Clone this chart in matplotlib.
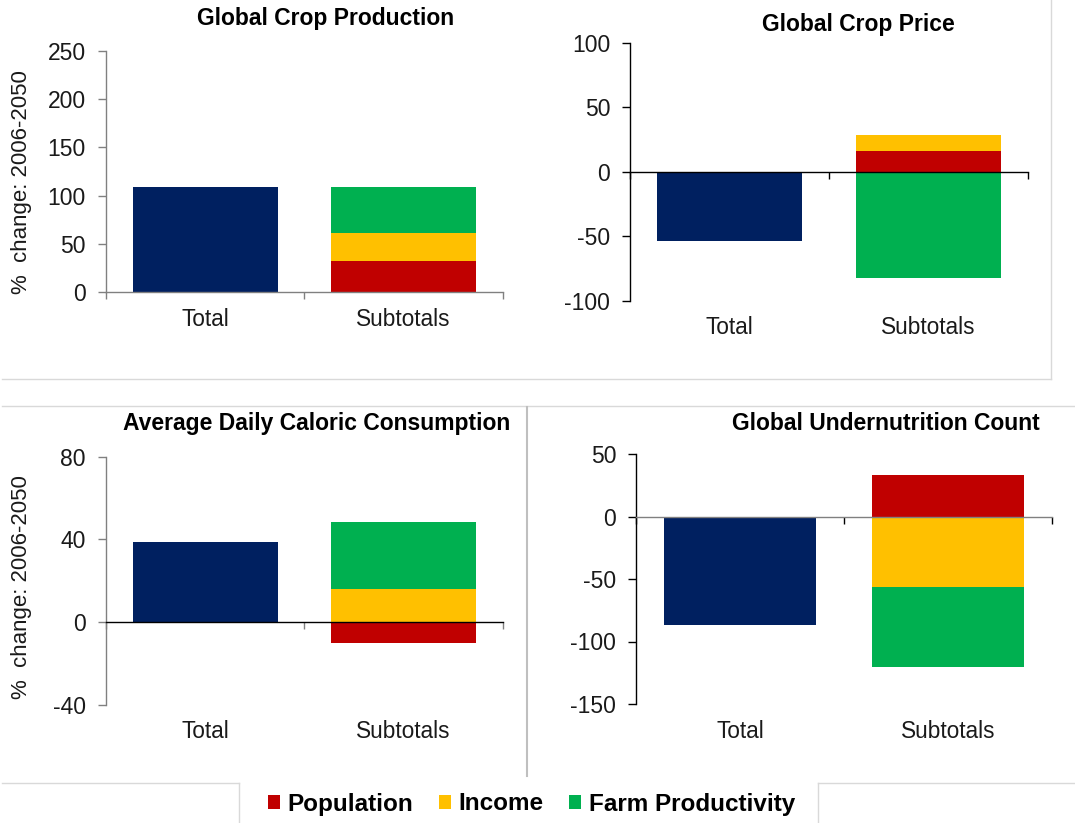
"""Four-panel stacked bar chart: drivers of change 2006-2050 (Total vs. Subtotals)."""
import matplotlib
matplotlib.use("Agg")
import matplotlib.pyplot as plt
from matplotlib.lines import Line2D

plt.rcParams.update({"font.family": ["Liberation Sans", "DejaVu Sans"], "font.size": 16,
                     "axes.unicode_minus": False,
                     "text.color": "#1a1a1a", "xtick.color": "#1a1a1a", "ytick.color": "#1a1a1a"})

TITLES = ["Global Crop Production", "Global Crop Price",
          "Average Daily Caloric Consumption", "Global Undernutrition Count"]
CATEGORIES = ["Total", "Subtotals"]
TOTAL = [108.6, -53.6, 38.6, -86.4]
POPULATION = [32.5, 16.5, -10.0, 33.4]
INCOME = [28.7, 12.2, 16.0, -56.5]
FARM = [47.4, -82.3, 32.3, -64.0]
SERIES = ["Population", "Income", "Farm Productivity"]
YTICKS = [[0, 50, 100, 150, 200, 250], [-100, -50, 0, 50, 100],
          [-40, 0, 40, 80], [-150, -100, -50, 0, 50]]
YLABEL = "%  change: 2006-2050"

NAVY = "#002060"
COLORS = ["#C00000", "#FFC000", "#00B050"]
SEP = "#d9d9d9"

W, H = 1075, 823
# axes boxes in pixels: x0, x1, ytop, ybottom
BOXES = [(106, 502.7, 51, 292), (630.3, 1027.7, 43, 300.7),
         (106, 502.7, 456.7, 704.7), (636.3, 1052.3, 454, 704)]
TITLE_POS = [(326, 19), (858.8, 24), (316.7, 424), (885.5, 424)]
# spine colours: (left spine, zero line)
SPINES = [("#808080", "#808080"), ("black", "black"), ("#808080", "black"), ("black", "#808080")]

fig = plt.figure(figsize=(W / 100, H / 100), dpi=100)


def panel(i):
    x0, x1, yt, yb = BOXES[i]
    ax = fig.add_axes([x0 / W, 1 - yb / H, (x1 - x0) / W, (yb - yt) / H])
    ax.bar(0, TOTAL[i], width=0.73, color=NAVY, zorder=1)
    handles = []
    pos, neg = 0.0, 0.0
    for vals, col, lab in zip([POPULATION, INCOME, FARM], COLORS, SERIES):
        v = vals[i]
        b = pos if v >= 0 else neg
        h = ax.bar(1, v, width=0.73, bottom=b, color=col, label=lab, zorder=1)
        handles.append(h)
        if v >= 0:
            pos += v
        else:
            neg += v
    lo, hi = YTICKS[i][0], YTICKS[i][-1]
    ax.set_ylim(lo, hi)
    ax.set_yticks(YTICKS[i])
    ax.set_xlim(-0.5, 1.5)
    ax.set_xticks([-0.5, 0.5, 1.5])
    ax.set_xticklabels([])
    lc, zc = SPINES[i]
    for s in ["top", "right"]:
        ax.spines[s].set_visible(False)
    ax.spines["left"].set_color(lc)
    ax.spines["left"].set_linewidth(1.0)
    ax.spines["bottom"].set_color(zc)
    ax.spines["bottom"].set_linewidth(1.0)
    ax.spines["bottom"].set_position(("data", 0))
    ax.spines["bottom"].set_zorder(3)
    ax.tick_params(axis="y", direction="out", length=6, width=1.0, color=lc, pad=8.5, labelsize=16.5)
    ax.tick_params(axis="x", direction="out", length=5, width=1.0, color=lc)
    ax.patch.set_alpha(0)
    for k, c in enumerate(CATEGORIES):
        ax.annotate(c, xy=(k, 0), xycoords=ax.get_xaxis_transform(), xytext=(0, -19.5),
                    textcoords="offset points", ha="center", va="center", fontsize=16.3)
    tx, ty = TITLE_POS[i]
    fig.text(tx / W, 1 - ty / H, TITLES[i], ha="center", va="center",
             fontsize=16.5, fontweight="bold", color="black")
    return handles


handles = None
for i in range(4):
    h = panel(i)
    if handles is None:
        handles = h

for yc in (182.5, 586.7):
    fig.text(21.7 / W, 1 - yc / H, YLABEL, rotation=90, ha="center", va="center", fontsize=16)

leg = fig.legend(handles, SERIES, ncol=3, loc="center", bbox_to_anchor=(531.5 / W, 1 - 804 / H),
                 frameon=False, handlelength=0.5, handleheight=0.5, handletextpad=0.3,
                 columnspacing=1.05, prop={"size": 17.5, "weight": "bold"})
for t in leg.get_texts():
    t.set_color("black")


def seg(xa, ya, xb, yb, color=SEP, lw=1.0):
    fig.add_artist(Line2D([xa / W, xb / W], [1 - ya / H, 1 - yb / H],
                          transform=fig.transFigure, color=color, lw=lw))


seg(2, 379.3, 1051, 379.3)
seg(1051, 0, 1051, 379.3)
seg(2, 406, 1075, 406)
seg(527, 407, 527, 776, color="#bfbfbf", lw=1.5)
seg(2, 783, 239.3, 783)
seg(239.3, 783, 239.3, 823)
seg(817.7, 783, 1075, 783)
seg(817.7, 783, 817.7, 823)

fig.savefig("out.png", dpi=100)
